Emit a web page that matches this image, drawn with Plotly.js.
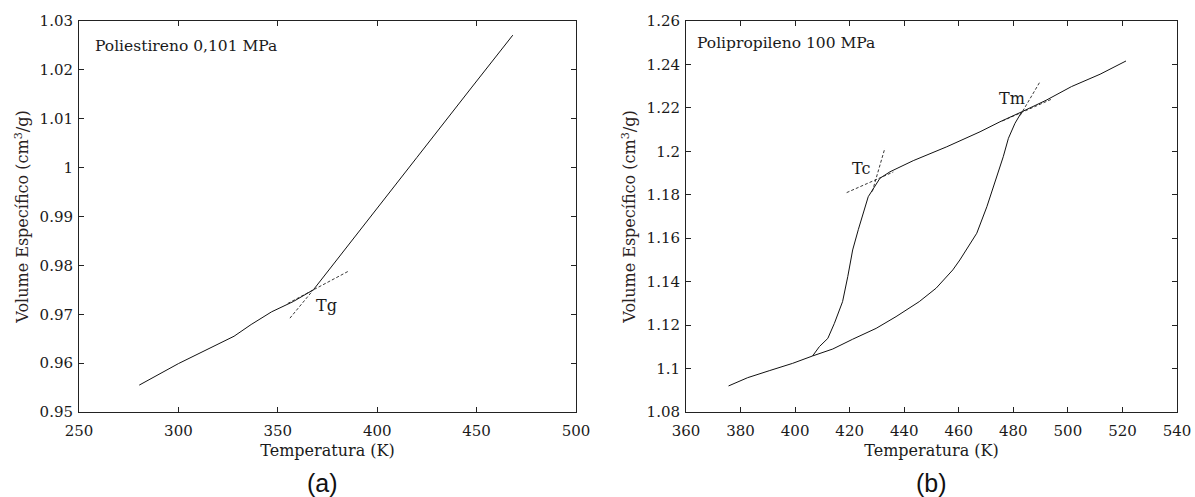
<!DOCTYPE html>
<html><head><meta charset="utf-8">
<script src="https://cdn.plot.ly/plotly-3.0.1.min.js"></script>
<style>html,body{margin:0;padding:0;background:#fff}</style>
</head><body><div id="chart" style="width:1195px;height:497px"></div>
<script>
// (a) Poliestireno 0,101 MPa
const psTemp = [280.3, 300, 328, 336.6, 346.9, 357.8, 367.9, 376.3, 400, 420, 447.3, 468.2];
const psVol  = [0.9555, 0.9599, 0.9655, 0.9679, 0.9705, 0.9726, 0.9750, 0.9794, 0.9917, 1.0021, 1.0163, 1.0271];
const tgSteepT = [356.1, 367.9];
const tgSteepV = [0.9692, 0.9750];
const tgShallowT = [355.0, 385.5];
const tgShallowV = [0.9722, 0.9788];

// (b) Polipropileno 100 MPa
const ppHeatT = [375.6, 382.6, 390.5, 399.1, 406.4, 413.8, 421.1, 429.7, 437.0, 445.5, 451.7, 457.8, 460.4, 466.6, 470.3, 473.9, 476.3, 478.2, 480.6, 483.1, 492.0, 501.3, 511.8, 521.3];
const ppHeatV = [1.0920, 1.0958, 1.0990, 1.1024, 1.1058, 1.1090, 1.1135, 1.1185, 1.1239, 1.1308, 1.1370, 1.1454, 1.1500, 1.1623, 1.1745, 1.1883, 1.1975, 1.2060, 1.2129, 1.2182, 1.2235, 1.2298, 1.2355, 1.2416];
const ppCoolT = [483.1, 475.1, 467.8, 455.6, 443.3, 434.8, 431.1, 428.7, 426.8, 423.2, 421.1, 419.3, 417.4, 414.4, 412.0, 408.9, 406.4];
const ppCoolV = [1.2182, 1.2136, 1.2090, 1.2021, 1.1957, 1.1906, 1.1876, 1.1830, 1.1791, 1.1641, 1.1546, 1.1423, 1.1308, 1.1208, 1.1139, 1.1101, 1.1058];
const tcSteepT = [428.3, 432.9];
const tcSteepV = [1.1815, 1.2014];
const tcShallowT = [418.9, 436.0];
const tcShallowV = [1.1810, 1.1905];
const tmSteepT = [482.5, 489.8];
const tmSteepV = [1.2165, 1.2321];
const tmShallowT = [476.0, 494.0];
const tmShallowV = [1.2140, 1.2240];

// tick labels
const xTicksA = [250, 300, 350, 400, 450, 500];
const yTicksA = [0.95, 0.96, 0.97, 0.98, 0.99, 1, 1.01, 1.02, 1.03];
const yTextA  = ['0.95', '0.96', '0.97', '0.98', '0.99', '1', '1.01', '1.02', '1.03'];
const xTicksB = [360, 380, 400, 420, 440, 460, 480, 500, 520, 540];
const yTicksB = [1.08, 1.1, 1.12, 1.14, 1.16, 1.18, 1.2, 1.22, 1.24, 1.26];
const yTextB  = ['1.08', '1.1', '1.12', '1.14', '1.16', '1.18', '1.2', '1.22', '1.24', '1.26'];

const serif = 'DejaVu Serif, Liberation Serif, serif';
const ink = '#1a1a1a';
const solid = {color: '#111', width: 1};
const dash = {color: '#222', width: 0.9, dash: '3px,2px'};

const traces = [
  {x: psTemp, y: psVol, mode: 'lines', line: solid, xaxis: 'x', yaxis: 'y'},
  {x: tgSteepT, y: tgSteepV, mode: 'lines', line: dash, xaxis: 'x', yaxis: 'y'},
  {x: tgShallowT, y: tgShallowV, mode: 'lines', line: dash, xaxis: 'x', yaxis: 'y'},
  {x: ppHeatT, y: ppHeatV, mode: 'lines', line: solid, xaxis: 'x2', yaxis: 'y2'},
  {x: ppCoolT, y: ppCoolV, mode: 'lines', line: solid, xaxis: 'x2', yaxis: 'y2'},
  {x: tcSteepT, y: tcSteepV, mode: 'lines', line: dash, xaxis: 'x2', yaxis: 'y2'},
  {x: tcShallowT, y: tcShallowV, mode: 'lines', line: dash, xaxis: 'x2', yaxis: 'y2'},
  {x: tmSteepT, y: tmSteepV, mode: 'lines', line: dash, xaxis: 'x2', yaxis: 'y2'},
  {x: tmShallowT, y: tmShallowV, mode: 'lines', line: dash, xaxis: 'x2', yaxis: 'y2'}
];

function axisBase() {
  return {
    showgrid: false, zeroline: false, showline: true, mirror: 'ticks',
    linecolor: '#222', linewidth: 1,
    ticks: 'inside', ticklen: 5, tickwidth: 1, tickcolor: '#222',
    tickfont: {family: serif, size: 15, color: ink},
    fixedrange: true
  };
}
const yTitle = {text: 'Volume Específico (cm<sup>3</sup>/g)', font: {family: serif, size: 16, color: '#2a2222'}, standoff: 6};
const xTitle = {text: 'Temperatura (K)', font: {family: serif, size: 16, color: ink}, standoff: 5};

const yDom = [85/497, 476/497];
const layout = {
  width: 1195, height: 497,
  margin: {l: 0, r: 0, t: 0, b: 0},
  paper_bgcolor: '#fff', plot_bgcolor: '#fff',
  showlegend: false,
  xaxis: Object.assign(axisBase(), {domain: [79/1195, 576/1195], range: [250, 500], tickvals: xTicksA, ticktext: xTicksA.map(String), title: xTitle, anchor: 'y', ticklabelstandoff: 5}),
  yaxis: Object.assign(axisBase(), {domain: yDom, range: [0.95, 1.03], tickvals: yTicksA, ticktext: yTextA, title: yTitle, anchor: 'x', ticklabelstandoff: 2}),
  xaxis2: Object.assign(axisBase(), {domain: [686/1195, 1177/1195], range: [360, 540], tickvals: xTicksB, ticktext: xTicksB.map(String), title: xTitle, anchor: 'y2', ticklabelstandoff: 5}),
  yaxis2: Object.assign(axisBase(), {domain: yDom, range: [1.08, 1.26], tickvals: yTicksB, ticktext: yTextB, title: yTitle, anchor: 'x2', ticklabelstandoff: 2}),
  annotations: [
    {xref: 'x', yref: 'y', x: 256.9, y: 1.0249, text: 'Poliestireno 0,101 MPa', showarrow: false, xanchor: 'left', yanchor: 'middle', font: {family: serif, size: 15.5, color: ink}},
    {xref: 'x', yref: 'y', x: 368.2, y: 0.9717, text: 'Tg', showarrow: false, xanchor: 'left', yanchor: 'middle', font: {family: serif, size: 16, color: ink}},
    {xref: 'x2', yref: 'y2', x: 363.3, y: 1.25, text: 'Polipropileno 100 MPa', showarrow: false, xanchor: 'left', yanchor: 'middle', font: {family: serif, size: 15.5, color: ink}},
    {xref: 'x2', yref: 'y2', x: 420.1, y: 1.1922, text: 'Tc', showarrow: false, xanchor: 'left', yanchor: 'middle', font: {family: serif, size: 16, color: ink}},
    {xref: 'x2', yref: 'y2', x: 473.9, y: 1.2244, text: 'Tm', showarrow: false, xanchor: 'left', yanchor: 'middle', font: {family: serif, size: 16, color: ink}},
    {xref: 'paper', yref: 'paper', x: 322.5/1195, y: 1 - 483/497, text: '(a)', showarrow: false, xanchor: 'center', yanchor: 'middle', font: {family: 'Liberation Sans, Arial, sans-serif', size: 25, color: '#111'}},
    {xref: 'paper', yref: 'paper', x: 931.5/1195, y: 1 - 483/497, text: '(b)', showarrow: false, xanchor: 'center', yanchor: 'middle', font: {family: 'Liberation Sans, Arial, sans-serif', size: 25, color: '#111'}}
  ]
};

Plotly.newPlot('chart', traces, layout, {staticPlot: true, displayModeBar: false});
</script>
</body></html>
